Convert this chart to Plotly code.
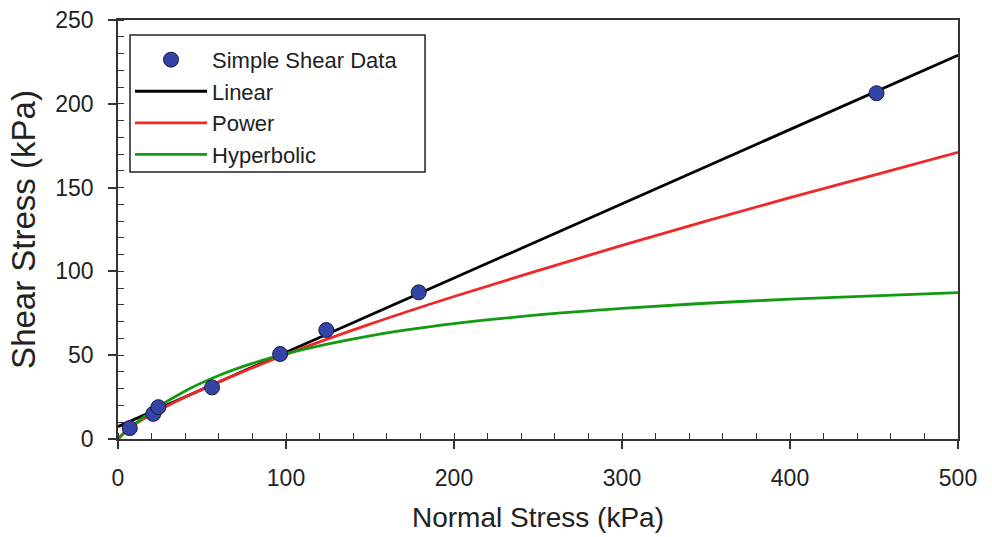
import plotly.graph_objects as go

# Simple shear test results
normal_stress = [7, 21, 24, 56, 96.5, 124, 179, 451.5]
shear_stress = [6.5, 15, 19, 30.8, 50.7, 65, 87.5, 206.3]

# Fitted envelopes, sampled along normal stress (kPa)
linear_x = [0, 500]
linear_y = [7.4, 229]

curve_x = [0, 5, 10, 20, 40, 60, 80, 100, 150, 200, 250, 300, 350, 400, 450, 500]
power_y = [0, 5.1, 8.7, 14.7, 25, 34, 42.5, 50.5, 68.5, 85, 100.5, 115.5, 130, 144, 157.5, 171]
hyper_y = [0, 4.8, 9.0, 16.6, 28.7, 37.9, 45.1, 51, 61.6, 68.8, 74, 77.9, 81, 83.4, 85.4, 87.3]

FONT = "Arial, Liberation Sans, sans-serif"
AXIS_COLOR = "#333333"
TEXT_COLOR = "#222222"

fig = go.Figure()
# lines first so the data markers sit on top; legendrank sets the legend order
fig.add_trace(go.Scatter(
    x=linear_x, y=linear_y, mode="lines", name="Linear", legendrank=2,
    line=dict(color="#000000", width=2.8),
))
fig.add_trace(go.Scatter(
    x=curve_x, y=power_y, mode="lines", name="Power", legendrank=3,
    line=dict(color="#F02828", width=2.8, shape="spline"),
))
fig.add_trace(go.Scatter(
    x=curve_x, y=hyper_y, mode="lines", name="Hyperbolic", legendrank=4,
    line=dict(color="#139A13", width=2.8, shape="spline"),
))
fig.add_trace(go.Scatter(
    x=normal_stress, y=shear_stress, mode="markers", name="Simple Shear Data", legendrank=1,
    marker=dict(size=15, color="#3344A6", line=dict(color="#1a1a40", width=1)),
))

fig.update_layout(
    width=992, height=537,
    margin=dict(l=118, r=34, t=20, b=98, autoexpand=False),
    paper_bgcolor="white", plot_bgcolor="white",
    font=dict(family=FONT, color=TEXT_COLOR),
    showlegend=True,
    legend=dict(
        x=0.0143, y=0.955, xanchor="left", yanchor="top",
        bgcolor="rgba(0,0,0,0)", borderwidth=0,
        font=dict(size=22, family=FONT, color=TEXT_COLOR),
        traceorder="normal", itemwidth=72,
    ),
    # framed box behind the legend entries
    shapes=[dict(
        type="rect", xref="paper", yref="paper",
        x0=0.0143, x1=0.3655, y0=0.637, y1=0.964,
        line=dict(color=TEXT_COLOR, width=1.5), fillcolor="white", layer="above",
    )],
)

fig.update_xaxes(
    range=[0, 500], tickvals=[0, 100, 200, 300, 400, 500],
    showgrid=False, zeroline=False, automargin=False,
    showline=True, linecolor=AXIS_COLOR, linewidth=1.5, mirror=True,
    ticks="outside", ticklen=8, tickwidth=1.5, tickcolor=AXIS_COLOR,
    minor=dict(ticks="inside", dtick=20, ticklen=6, tickwidth=1.2, tickcolor=AXIS_COLOR, showgrid=False),
    tickfont=dict(size=23, family=FONT, color=TEXT_COLOR),
    ticklabelstandoff=10,
    title=dict(text="Normal Stress (kPa)", font=dict(size=28, family=FONT, color=TEXT_COLOR), standoff=17),
)
fig.update_yaxes(
    range=[0, 250], tickvals=[0, 50, 100, 150, 200, 250],
    showgrid=False, zeroline=False, automargin=False,
    showline=True, linecolor=AXIS_COLOR, linewidth=1.5, mirror=True,
    ticks="outside", ticklen=8, tickwidth=1.5, tickcolor=AXIS_COLOR,
    minor=dict(ticks="inside", dtick=10, ticklen=6, tickwidth=1.2, tickcolor=AXIS_COLOR, showgrid=False),
    tickfont=dict(size=23, family=FONT, color=TEXT_COLOR),
    ticklabelstandoff=10,
    title=dict(text="Shear Stress (kPa)", font=dict(size=33, family=FONT, color=TEXT_COLOR), standoff=10),
)

fig.write_html("out.html")
